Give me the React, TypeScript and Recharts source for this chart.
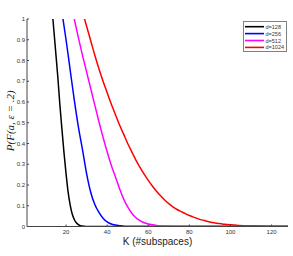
import React from 'react';
import { LineChart, Line, XAxis, YAxis, Legend, Label } from 'recharts';

// K values and probabilities, one pair of arrays per curve
const kD128 = [13.6, 14, 15, 16, 17, 18, 19, 20, 21, 22, 23, 24, 25, 26, 27, 28, 29, 30, 128];
const pD128 = [1, 0.954, 0.837, 0.72, 0.586, 0.469, 0.356, 0.255, 0.167, 0.104, 0.06, 0.034, 0.018, 0.009, 0.004, 0.002, 0.001, 0, 0];

const kD256 = [18.5, 20, 22, 24, 26, 28, 30, 32, 34, 36, 38, 40, 42, 44, 46, 48, 50, 55, 128];
const pD256 = [1, 0.9, 0.755, 0.61, 0.48, 0.37, 0.255, 0.165, 0.106, 0.068, 0.04, 0.022, 0.012, 0.007, 0.004, 0.0015, 0.0005, 0, 0];

const kD512 = [24, 26, 28, 30, 32, 34, 36, 38, 40, 42, 44, 46, 48, 50, 52, 54, 56, 58, 60, 62, 64, 66, 68, 70, 75, 80, 128];
const pD512 = [1, 0.91, 0.825, 0.745, 0.665, 0.585, 0.505, 0.43, 0.36, 0.295, 0.24, 0.183, 0.133, 0.094, 0.064, 0.042, 0.028, 0.018, 0.012, 0.008, 0.005, 0.003, 0.002, 0.001, 0.0003, 0, 0];

const kD1024 = [29, 30, 32, 34, 36, 38, 40, 42, 44, 46, 48, 50, 52, 54, 56, 58, 60, 62, 64, 66, 68, 70, 72, 74, 76, 78, 80, 82, 84, 86, 88, 90, 92, 94, 96, 98, 100, 104, 108, 112, 116, 122, 128];
const pD1024 = [1, 0.965, 0.895, 0.825, 0.76, 0.7, 0.645, 0.59, 0.54, 0.49, 0.445, 0.4, 0.36, 0.32, 0.285, 0.252, 0.222, 0.195, 0.17, 0.148, 0.128, 0.11, 0.095, 0.082, 0.072, 0.062, 0.053, 0.045, 0.038, 0.032, 0.027, 0.022, 0.018, 0.015, 0.012, 0.01, 0.008, 0.005, 0.003, 0.002, 0.001, 0.0005, 0.0002];

const seriesNames = ['d=128', 'd=256', 'd=512', 'd=1024'];
const seriesColors = ['#000000', '#0000ff', '#ff00ff', '#ff0000'];

const xTicks = [20, 40, 60, 80, 100, 120];
const yTicks = [0, 0.1, 0.2, 0.3, 0.4, 0.5, 0.6, 0.7, 0.8, 0.9, 1];

const toPoints = (k: number[], p: number[]) => k.map((x, i) => ({ k: x, p: p[i] }));

const series = [
  toPoints(kD128, pD128),
  toPoints(kD256, pD256),
  toPoints(kD512, pD512),
  toPoints(kD1024, pD1024),
];

const tickStyle = { fontSize: 6, fill: '#333', fontFamily: 'Liberation Sans, Arial, sans-serif' };

const LegendBox = () => (
  <svg width={44} height={31} style={{ display: 'block' }}>
    <rect x={0.5} y={0.5} width={43} height={30} fill="#fff" stroke="#808080" strokeWidth={1} />
    {seriesNames.map((name, i) => {
      const cy = 5.7 + i * 6.9;
      return (
        <g key={name}>
          <line x1={2} x2={21} y1={cy} y2={cy} stroke={seriesColors[i]} strokeWidth={1.6} />
          <text x={22.5} y={cy} dominantBaseline="central" fontSize={5.5} fill="#333"
            fontFamily="Liberation Sans, Arial, sans-serif">{name}</text>
        </g>
      );
    })}
  </svg>
);

const YTitle = (props: any) => {
  const { viewBox } = props;
  const cx = viewBox.x + 10;
  const cy = viewBox.y + viewBox.height / 2 - 2;
  return (
    <text x={cx} y={cy} transform={`rotate(-90 ${cx} ${cy})`} textAnchor="middle" dominantBaseline="central"
      fontSize={11} fontStyle="italic" fill="#222" fontFamily="Liberation Serif, Times New Roman, serif">
      P(F(a, ε = .2)
    </text>
  );
};

export default function App() {
  return (
    <div style={{ position: 'absolute', left: 0, top: 0, width: 293, height: 256, background: '#fff' }}>
      <LineChart width={293} height={256} margin={{ top: 19, right: 5, bottom: 0, left: 0 }}>
        <XAxis
          dataKey="k"
          type="number"
          domain={[1, 128]}
          ticks={xTicks}
          allowDataOverflow
          height={29.5}
          stroke="#444"
          tickSize={-2}
          tickMargin={5}
          tick={tickStyle}
        >
          <Label value="K (#subspaces)" position="insideBottom" offset={11}
            style={{ fontSize: 10, fill: '#222', fontFamily: 'Liberation Sans, Arial, sans-serif' }} />
        </XAxis>
        <YAxis
          type="number"
          domain={[0, 1]}
          ticks={yTicks}
          allowDataOverflow
          width={27}
          stroke="#444"
          tickSize={-2}
          tickMargin={4}
          tick={tickStyle}
        >
          <Label content={YTitle} />
        </YAxis>
        <Legend
          layout="horizontal"
          verticalAlign="middle"
          content={LegendBox}
          wrapperStyle={{ top: 21, left: 243, width: 44, height: 31 }}
        />
        {series.map((data, i) => (
          <Line
            key={seriesNames[i]}
            data={data}
            dataKey="p"
            name={seriesNames[i]}
            type="monotone"
            stroke={seriesColors[i]}
            strokeWidth={1.5}
            dot={false}
            isAnimationActive={false}
          />
        ))}
      </LineChart>
    </div>
  );
}
